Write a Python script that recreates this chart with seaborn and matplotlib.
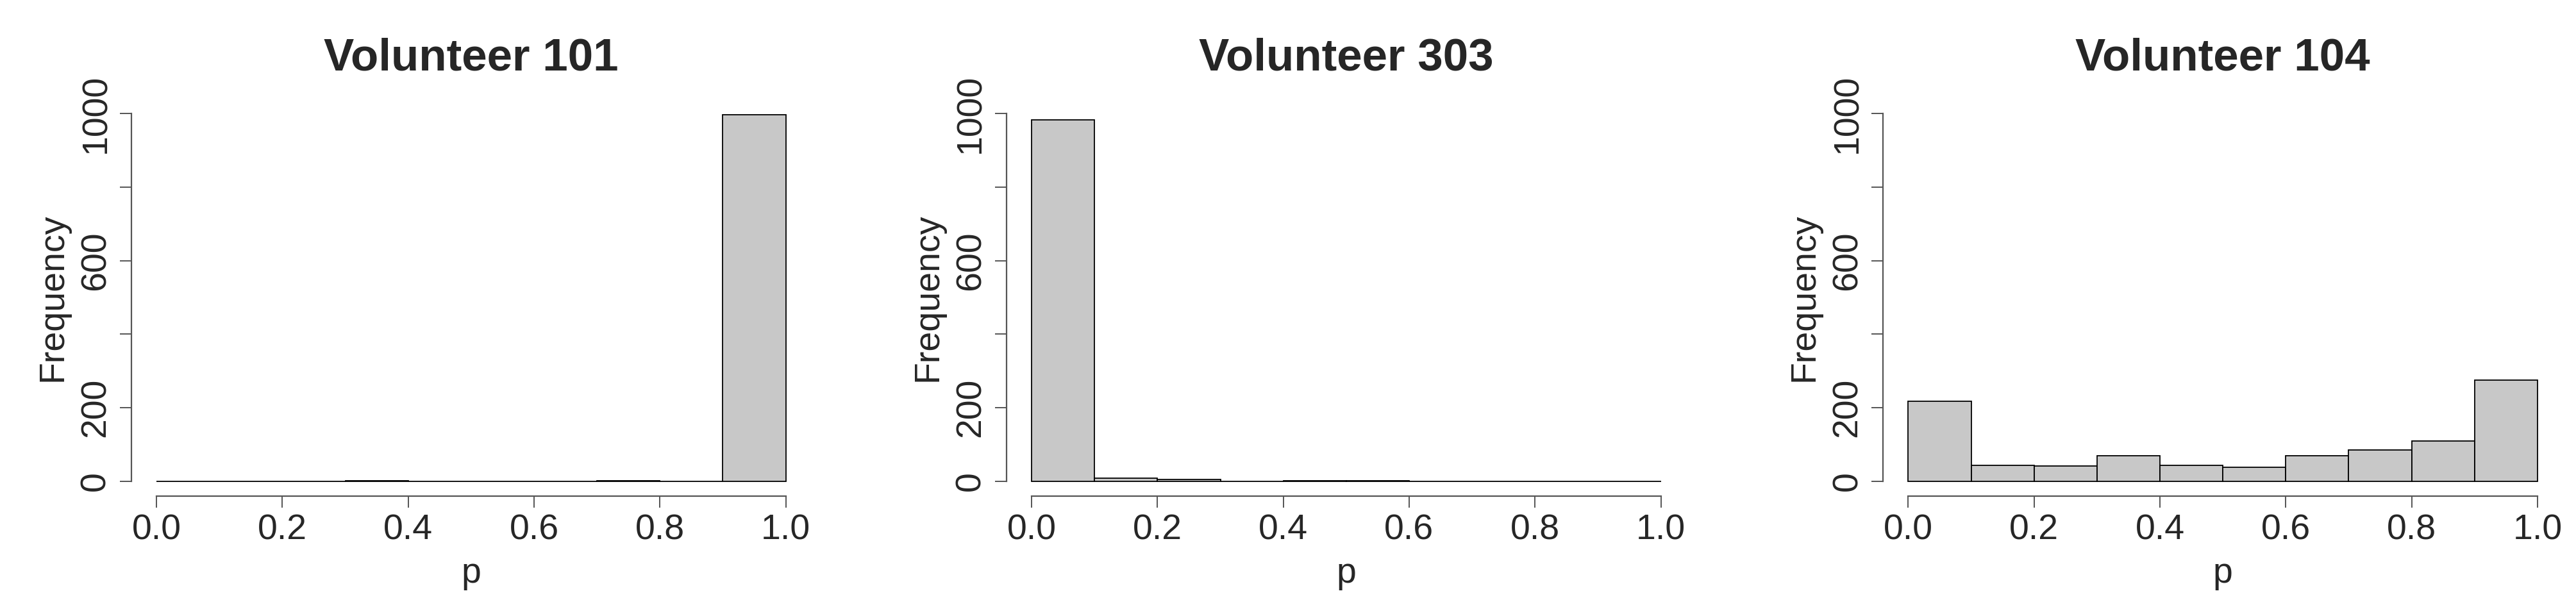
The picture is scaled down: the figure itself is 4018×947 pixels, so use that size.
import numpy as np
import pandas as pd
import matplotlib
matplotlib.use('Agg')
import matplotlib.pyplot as plt
import seaborn as sns

# Histogram counts per bin of p (bins 0.0-0.1, ..., 0.9-1.0)
bin_edges = [0.0, 0.1, 0.2, 0.3, 0.4, 0.5, 0.6, 0.7, 0.8, 0.9, 1.0]
counts_101 = [0, 0, 0, 2, 0, 0, 0, 1, 0, 997]
counts_303 = [983, 9, 5, 0, 2, 1, 0, 0, 0, 0]
counts_104 = [218, 44, 42, 69, 44, 39, 69, 85, 109, 276]

titles = ['Volunteer 101', 'Volunteer 303', 'Volunteer 104']
x_ticks = [0.0, 0.2, 0.4, 0.6, 0.8, 1.0]
x_ticklabels = ['0.0', '0.2', '0.4', '0.6', '0.8', '1.0']
y_ticks = [0, 200, 400, 600, 800, 1000]
y_ticklabels = ['0', '200', '', '600', '', '1000']

sns.set_style('ticks')
plt.rcParams['font.family'] = ['Liberation Sans', 'DejaVu Sans']

fig = plt.figure(figsize=(40.18, 9.47), dpi=100)
lefts = [0.0510, 0.3907, 0.7310]

mids = [(a + b) / 2 for a, b in zip(bin_edges[:-1], bin_edges[1:])]

for left, title, counts in zip(lefts, titles, [counts_101, counts_303, counts_104]):
    ax = fig.add_axes([left, 0.1827, 0.2638, 0.6547])
    df = pd.DataFrame({'p': mids, 'n': counts})
    sns.histplot(data=df, x='p', weights='n', bins=bin_edges, stat='count',
                 color='#c8c8c8', edgecolor='black', linewidth=1.3, alpha=1, ax=ax)
    ax.set_xlim(-0.04, 1.04)
    ax.set_ylim(-40, 1040)
    ax.set_xticks(x_ticks)
    ax.set_xticklabels(x_ticklabels)
    ax.set_yticks(y_ticks)
    ax.set_yticklabels(y_ticklabels, rotation=90, va='center')
    sns.despine(ax=ax)
    ax.spines['left'].set_bounds(0, 1000)
    ax.spines['bottom'].set_bounds(0, 1)
    for s in ['left', 'bottom']:
        ax.spines[s].set_color('#555555')
        ax.spines[s].set_linewidth(1.6)
    ax.tick_params(axis='both', length=13, width=1.4, color='#555555', labelsize=40)
    ax.tick_params(axis='x', pad=7)
    ax.tick_params(axis='y', pad=8)
    ax.set_xlabel('p', fontsize=40, labelpad=11)
    ax.set_ylabel('Frequency', fontsize=40, labelpad=11)
    ax.set_title(title, fontsize=51, fontweight='bold', pad=32)

plt.savefig('out.png', dpi=100)
